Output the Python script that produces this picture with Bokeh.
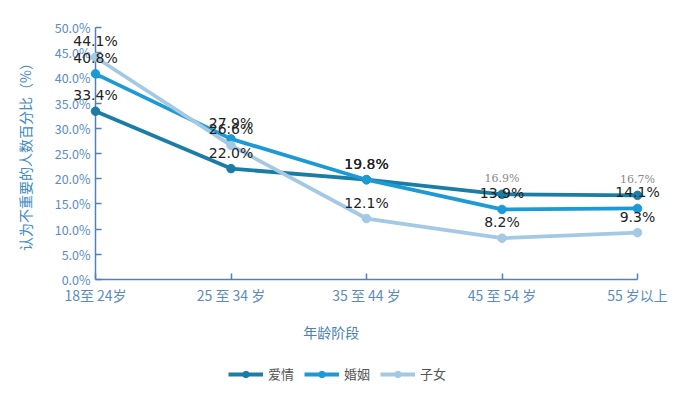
from bokeh.plotting import figure
from bokeh.layouts import column
from bokeh.models import (Range1d, FixedTicker, PrintfTickFormatter,
                          Legend, LegendItem, ColumnDataSource)
from bokeh.core.properties import value
from bokeh.embed import file_html
from bokeh.resources import INLINE

categories = ["18至 24岁", "25 至 34 岁", "35 至 44 岁", "45 至 54 岁", "55 岁以上"]
love = [33.4, 22.0, 19.8, 16.9, 16.7]
marriage = [40.8, 27.9, 19.8, 13.9, 14.1]
children = [44.1, 26.6, 12.1, 8.2, 9.3]
series_names = ["爱情", "婚姻", "子女"]
y_ticks = [0, 5, 10, 15, 20, 25, 30, 35, 40, 45, 50]
x_title = "年龄阶段"
y_title = "认为不重要的人数百分比（%）"

colors = ["#1a7da6", "#1b9ad6", "#a4c9e4"]
xs = list(range(len(categories)))

p = figure(width=697, height=350, output_backend="svg", toolbar_location=None,
           title=None, x_range=Range1d(0, xs[-1]), y_range=Range1d(0, 50),
           min_border_left=95, min_border_right=60, min_border_top=27, min_border_bottom=71)
p.outline_line_color = None
p.grid.visible = False
p.background_fill_color = "white"
p.border_fill_color = "white"

axis_color = "#4f82b8"
tick_color = "#5b8cc0"

p.yaxis.ticker = FixedTicker(ticks=y_ticks)
p.yaxis.formatter = PrintfTickFormatter(format="%.1f%%")
p.xaxis.ticker = FixedTicker(ticks=xs)
p.xaxis.major_label_overrides = {i: c for i, c in zip(xs, categories)}
for ax in (p.xaxis[0], p.yaxis[0]):
    ax.axis_line_color = axis_color
    ax.axis_line_width = 1.5
    ax.major_tick_line_color = axis_color
    ax.major_tick_line_width = 1.5
    ax.major_tick_in = 6
    ax.major_tick_out = 0
    ax.minor_tick_line_color = None
    ax.major_label_text_color = tick_color
    ax.major_label_text_font = "Noto Sans CJK SC"
p.yaxis.major_label_text_font_size = "12.5px"
p.xaxis.major_label_text_font_size = "14px"
p.xaxis.major_label_standoff = 5
p.yaxis.major_label_standoff = 5

p.yaxis.axis_label = y_title
p.yaxis.axis_label_text_font = "Noto Sans CJK SC"
p.yaxis.axis_label_text_font_size = "14px"
p.yaxis.axis_label_text_font_style = "normal"
p.yaxis.axis_label_text_color = "#3f8ac2"
p.yaxis.axis_label_standoff = 17

# x axis title, drawn at overlay level so it is not clipped to the frame
t = p.text(x=[1.74], y=[-10.5], text=[x_title], text_font=value("Noto Sans CJK SC"),
           text_font_size="14px", text_color="#4a7fb0",
           text_align="center", text_baseline="middle")
t.level = "overlay"

def fmt(v):
    return "%.1f%%" % v

for name, vals, col in zip(series_names, [love, marriage, children], colors):
    src = ColumnDataSource(dict(x=xs, y=vals))
    l = p.line("x", "y", source=src, line_color=col, line_width=3.8)
    s = p.scatter("x", "y", source=src, size=8.5, fill_color=col, line_color=col)
    l.level = "overlay"
    s.level = "overlay"

# data labels
for vals, small in [(love, [3, 4]), (marriage, []), (children, [])]:
    big_idx = [i for i in xs if i not in small]
    src = ColumnDataSource(dict(x=[xs[i] for i in big_idx], y=[vals[i] for i in big_idx],
                                t=[fmt(vals[i]) for i in big_idx]))
    r = p.text("x", "y", text="t", source=src, text_align="center", text_baseline="middle",
               y_offset=-16, text_font=value("DejaVu Sans"), text_font_size="14px",
               text_color="#222222")
    r.level = "overlay"
    if small:
        src2 = ColumnDataSource(dict(x=[xs[i] for i in small], y=[vals[i] for i in small],
                                     t=[fmt(vals[i]) for i in small]))
        r2 = p.text("x", "y", text="t", source=src2, text_align="center", text_baseline="middle",
                    y_offset=-16, text_font=value("DejaVu Serif"), text_font_size="11px",
                    text_color="#8a8a8a")
        r2.level = "overlay"

# legend strip below the chart (same series styles, drawn off-range)
lg = figure(width=697, height=43, output_backend="svg", toolbar_location=None,
            title=None, x_axis_location=None, y_axis_location=None,
            x_range=Range1d(0, 1), y_range=Range1d(0, 1),
            min_border_left=0, min_border_right=0, min_border_top=0, min_border_bottom=0)
lg.outline_line_color = None
lg.grid.visible = False
items = []
for name, vals, col in zip(series_names, [love, marriage, children], colors):
    src = ColumnDataSource(dict(x=xs, y=vals))
    ll = lg.line("x", "y", source=src, line_color=col, line_width=3.8)
    ss = lg.scatter("x", "y", source=src, size=8.5, fill_color=col, line_color=col)
    items.append(LegendItem(label=name, renderers=[ll, ss]))
legend = Legend(items=items, orientation="horizontal", location=(133, 10),
                glyph_width=35, glyph_height=16, label_height=16,
                label_standoff=5, spacing=10, padding=0, margin=0,
                border_line_color=None, background_fill_alpha=0,
                label_text_font="Noto Sans CJK SC", label_text_font_size="13px",
                label_text_color="#555555")
lg.add_layout(legend, "center")

layout = column(p, lg, spacing=0)
open("out.html", "w").write(file_html(layout, INLINE))
